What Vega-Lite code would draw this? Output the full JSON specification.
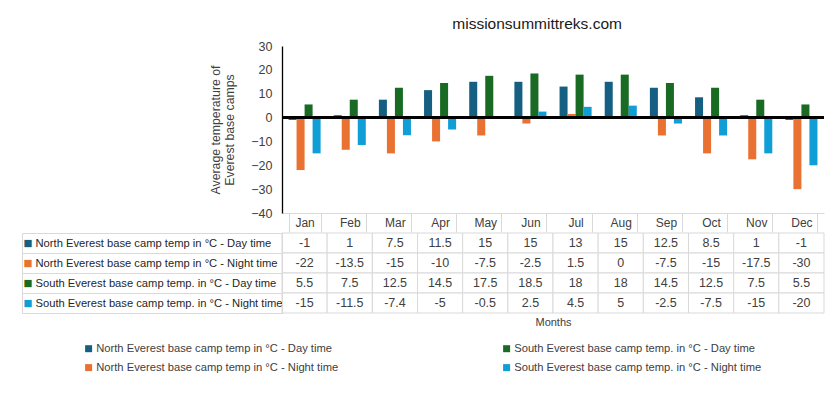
{
  "$schema": "https://vega.github.io/schema/vega-lite/v6.json",
  "background": "white",
  "padding": {"left": 21, "top": 16, "right": 5, "bottom": 5},
  "config": {
    "font": "Liberation Sans",
    "view": {"stroke": null},
    "axis": {"labelColor": "#404040", "titleColor": "#404040", "titleFontWeight": "normal", "labelOverlap": false}
  },
  "title": {"text": "missionsummittreks.com", "fontSize": 15.5, "fontWeight": "normal", "color": "#1a1a1a", "anchor": "middle", "offset": 8, "dx": 114},
  "datasets": {
    "temps": [
      {"month": "Jan", "series": "North Everest base camp temp  in °C -  Day time", "temp": -1},
      {"month": "Feb", "series": "North Everest base camp temp  in °C -  Day time", "temp": 1},
      {"month": "Mar", "series": "North Everest base camp temp  in °C -  Day time", "temp": 7.5},
      {"month": "Apr", "series": "North Everest base camp temp  in °C -  Day time", "temp": 11.5},
      {"month": "May", "series": "North Everest base camp temp  in °C -  Day time", "temp": 15},
      {"month": "Jun", "series": "North Everest base camp temp  in °C -  Day time", "temp": 15},
      {"month": "Jul", "series": "North Everest base camp temp  in °C -  Day time", "temp": 13},
      {"month": "Aug", "series": "North Everest base camp temp  in °C -  Day time", "temp": 15},
      {"month": "Sep", "series": "North Everest base camp temp  in °C -  Day time", "temp": 12.5},
      {"month": "Oct", "series": "North Everest base camp temp  in °C -  Day time", "temp": 8.5},
      {"month": "Nov", "series": "North Everest base camp temp  in °C -  Day time", "temp": 1},
      {"month": "Dec", "series": "North Everest base camp temp  in °C -  Day time", "temp": -1},
      {"month": "Jan", "series": "North Everest base camp temp  in °C -  Night time", "temp": -22},
      {"month": "Feb", "series": "North Everest base camp temp  in °C -  Night time", "temp": -13.5},
      {"month": "Mar", "series": "North Everest base camp temp  in °C -  Night time", "temp": -15},
      {"month": "Apr", "series": "North Everest base camp temp  in °C -  Night time", "temp": -10},
      {"month": "May", "series": "North Everest base camp temp  in °C -  Night time", "temp": -7.5},
      {"month": "Jun", "series": "North Everest base camp temp  in °C -  Night time", "temp": -2.5},
      {"month": "Jul", "series": "North Everest base camp temp  in °C -  Night time", "temp": 1.5},
      {"month": "Aug", "series": "North Everest base camp temp  in °C -  Night time", "temp": 0},
      {"month": "Sep", "series": "North Everest base camp temp  in °C -  Night time", "temp": -7.5},
      {"month": "Oct", "series": "North Everest base camp temp  in °C -  Night time", "temp": -15},
      {"month": "Nov", "series": "North Everest base camp temp  in °C -  Night time", "temp": -17.5},
      {"month": "Dec", "series": "North Everest base camp temp  in °C -  Night time", "temp": -30},
      {"month": "Jan", "series": "South Everest base camp temp. in °C -  Day time", "temp": 5.5},
      {"month": "Feb", "series": "South Everest base camp temp. in °C -  Day time", "temp": 7.5},
      {"month": "Mar", "series": "South Everest base camp temp. in °C -  Day time", "temp": 12.5},
      {"month": "Apr", "series": "South Everest base camp temp. in °C -  Day time", "temp": 14.5},
      {"month": "May", "series": "South Everest base camp temp. in °C -  Day time", "temp": 17.5},
      {"month": "Jun", "series": "South Everest base camp temp. in °C -  Day time", "temp": 18.5},
      {"month": "Jul", "series": "South Everest base camp temp. in °C -  Day time", "temp": 18},
      {"month": "Aug", "series": "South Everest base camp temp. in °C -  Day time", "temp": 18},
      {"month": "Sep", "series": "South Everest base camp temp. in °C -  Day time", "temp": 14.5},
      {"month": "Oct", "series": "South Everest base camp temp. in °C -  Day time", "temp": 12.5},
      {"month": "Nov", "series": "South Everest base camp temp. in °C -  Day time", "temp": 7.5},
      {"month": "Dec", "series": "South Everest base camp temp. in °C -  Day time", "temp": 5.5},
      {"month": "Jan", "series": "South Everest base camp temp. in °C -  Night time", "temp": -15},
      {"month": "Feb", "series": "South Everest base camp temp. in °C -  Night time", "temp": -11.5},
      {"month": "Mar", "series": "South Everest base camp temp. in °C -  Night time", "temp": -7.4},
      {"month": "Apr", "series": "South Everest base camp temp. in °C -  Night time", "temp": -5},
      {"month": "May", "series": "South Everest base camp temp. in °C -  Night time", "temp": -0.5},
      {"month": "Jun", "series": "South Everest base camp temp. in °C -  Night time", "temp": 2.5},
      {"month": "Jul", "series": "South Everest base camp temp. in °C -  Night time", "temp": 4.5},
      {"month": "Aug", "series": "South Everest base camp temp. in °C -  Night time", "temp": 5},
      {"month": "Sep", "series": "South Everest base camp temp. in °C -  Night time", "temp": -2.5},
      {"month": "Oct", "series": "South Everest base camp temp. in °C -  Night time", "temp": -7.5},
      {"month": "Nov", "series": "South Everest base camp temp. in °C -  Night time", "temp": -15},
      {"month": "Dec", "series": "South Everest base camp temp. in °C -  Night time", "temp": -20}
    ]
  },
  "spacing": -6,
  "resolve": {"scale": {"x": "independent", "y": "independent"}},
  "vconcat": [
    {
      "width": 542,
      "height": 167,
      "data": {"name": "temps"},
      "layer": [
        {
          "mark": {"type": "bar"},
          "encoding": {
            "x": {
              "field": "month", "type": "nominal",
              "sort": ["Jan","Feb","Mar","Apr","May","Jun","Jul","Aug","Sep","Oct","Nov","Dec"],
              "scale": {"paddingInner": 0.29, "paddingOuter": 0.145},
              "axis": {"title": null, "domainColor": "#d9d9d9", "tickBand": "extent", "tickSize": 19, "tickColor": "#d9d9d9", "labelPadding": -10, "labelBaseline": "middle", "labelAngle": 0, "labelFontSize": 12}
            },
            "xOffset": {
              "field": "series", "type": "nominal",
              "sort": ["North Everest base camp temp  in °C -  Day time", "North Everest base camp temp  in °C -  Night time", "South Everest base camp temp. in °C -  Day time", "South Everest base camp temp. in °C -  Night time"],
              "scale": {"paddingInner": 0, "paddingOuter": 0}
            },
            "y": {
              "field": "temp", "type": "quantitative",
              "scale": {"domain": [-40, 30], "nice": false},
              "axis": {"values": [-40,-30,-20,-10,0,10,20,30], "tickCount": 8, "labelOverlap": false, "title": ["Average temperature of", "Everest base camps"], "titleFontSize": 12.3, "titlePadding": 14, "domainColor": "#000000", "domainWidth": 1.3, "ticks": false, "grid": false, "labelPadding": 10, "labelFontSize": 12.5}
            },
            "color": {
              "field": "series", "type": "nominal",
              "scale": {"domain": ["North Everest base camp temp  in °C -  Day time", "North Everest base camp temp  in °C -  Night time", "South Everest base camp temp. in °C -  Day time", "South Everest base camp temp. in °C -  Night time"], "range": ["#156082", "#E97132", "#196B24", "#0F9ED5"]},
              "legend": {"title": null, "orient": "none", "legendX": -199, "legendY": 297, "columns": 2, "columnPadding": 156, "rowPadding": 7, "symbolType": "square", "symbolSize": 49, "symbolStrokeWidth": 0, "labelOffset": 2, "labelFontSize": 11.2, "labelColor": "#404040", "labelLimit": 400}
            }
          }
        },
        {
          "mark": {"type": "rule", "color": "#000000", "strokeWidth": 1.5},
          "encoding": {"y": {"datum": 0, "type": "quantitative",
            "axis": {"values": [-40,-30,-20,-10,0,10,20,30], "tickCount": 8, "labelOverlap": false, "title": ["Average temperature of", "Everest base camps"], "titleFontSize": 12.3, "titlePadding": 14, "domainColor": "#000000", "domainWidth": 1.3, "ticks": false, "grid": false, "labelPadding": 10, "labelFontSize": 12.5}}}
        }
      ]
    },
    {
      "width": 542,
      "height": 80,
      "data": {"name": "temps"},
      "resolve": {"scale": {"y": "independent"}, "axis": {"y": "independent"}},
      "layer": [
        {
          "mark": {"type": "rect", "fill": "white", "stroke": "#d9d9d9", "strokeWidth": 1},
          "encoding": {
            "x": {
              "field": "month", "type": "nominal",
              "sort": ["Jan","Feb","Mar","Apr","May","Jun","Jul","Aug","Sep","Oct","Nov","Dec"],
              "scale": {"paddingInner": 0, "paddingOuter": 0},
              "axis": {"title": "Months", "labels": false, "ticks": false, "domain": false, "titleFontSize": 11, "titlePadding": 3}
            },
            "y": {
              "field": "series", "type": "nominal",
              "sort": ["North Everest base camp temp  in °C -  Day time", "North Everest base camp temp  in °C -  Night time", "South Everest base camp temp. in °C -  Day time", "South Everest base camp temp. in °C -  Night time"],
              "scale": {"paddingInner": 0, "paddingOuter": 0},
              "axis": {"title": null, "orient": "left", "domainColor": "#d9d9d9", "tickBand": "extent", "tickSize": 260, "tickColor": "#d9d9d9", "labelAlign": "left", "labelPadding": -13, "labelLimit": 300, "labelFontSize": 11.2, "labelColor": "#262626"}
            }
          }
        },
        {
          "mark": {"type": "text", "fontSize": 12.5, "color": "#404040"},
          "encoding": {
            "x": {"field": "month", "type": "nominal", "sort": ["Jan","Feb","Mar","Apr","May","Jun","Jul","Aug","Sep","Oct","Nov","Dec"]},
            "y": {"field": "series", "type": "nominal", "sort": ["North Everest base camp temp  in °C -  Day time", "North Everest base camp temp  in °C -  Night time", "South Everest base camp temp. in °C -  Day time", "South Everest base camp temp. in °C -  Night time"], "axis": null},
            "text": {"field": "temp", "type": "nominal"}
          }
        },
        {
          "mark": {"type": "rect", "opacity": 0},
          "encoding": {
            "x": {"field": "month", "type": "nominal", "sort": ["Jan","Feb","Mar","Apr","May","Jun","Jul","Aug","Sep","Oct","Nov","Dec"]},
            "y": {
              "field": "series", "type": "nominal",
              "sort": ["North Everest base camp temp  in °C -  Day time", "North Everest base camp temp  in °C -  Night time", "South Everest base camp temp. in °C -  Day time", "South Everest base camp temp. in °C -  Night time"],
              "scale": {"paddingInner": 0, "paddingOuter": 0},
              "axis": {"title": null, "orient": "left", "offset": 260, "domainColor": "#d9d9d9", "ticks": false, "labelExpr": "'■'", "labelFont": "DejaVu Sans", "labelFontSize": 9.5, "labelAlign": "left", "labelPadding": -1,
                "labelColor": {"condition": [
                  {"test": "indexof(datum.value, 'North') >= 0 && indexof(datum.value, 'Day') >= 0", "value": "#156082"},
                  {"test": "indexof(datum.value, 'North') >= 0", "value": "#E97132"},
                  {"test": "indexof(datum.value, 'Day') >= 0", "value": "#196B24"}
                ], "value": "#0F9ED5"}
              }
            }
          }
        }
      ]
    }
  ]
}
